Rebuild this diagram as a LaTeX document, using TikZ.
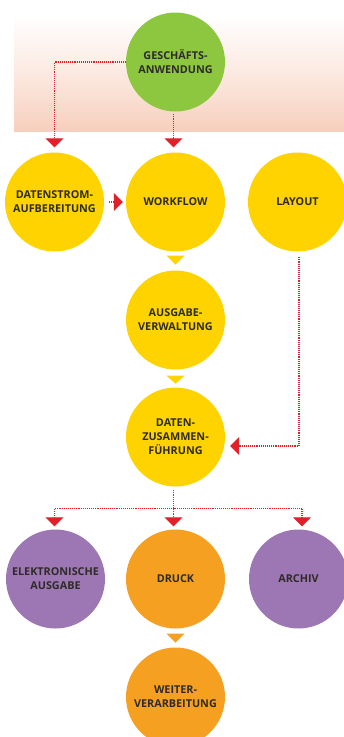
\documentclass[tikz,border=0pt]{standalone}
\usepackage{fontspec}
\setmainfont{Open Sans}
\usetikzlibrary{arrows.meta,calc}
\definecolor{cgreen}{HTML}{8DC63F}
\definecolor{cyellow}{HTML}{FED300}
\definecolor{cpurple}{HTML}{9D76B4}
\definecolor{corange}{HTML}{F6A021}
\definecolor{cred}{HTML}{E2202A}
\definecolor{ctext}{HTML}{2E2B28}
\definecolor{csalmon}{HTML}{F7CFBD}
\tikzset{
  circ/.style={circle, inner sep=0pt, minimum size=99pt, text=ctext,
    font=\fontsize{10.8}{14}\selectfont\bfseries, align=center},
  gr/.style={circ, fill=cgreen},
  ye/.style={circ, fill=cyellow},
  pu/.style={circ, fill=cpurple},
  og/.style={circ, fill=corange},
  reddot/.style={draw=cred, line width=1.3pt, dash pattern=on 1pt off 0.9pt,
    -{Triangle[width=18pt,length=9pt,fill=cred,color=cred]}},
  reddots/.style={draw=cred, line width=1.3pt, dash pattern=on 1pt off 0.9pt},
}
\begin{document}
\begin{tikzpicture}[x=1pt,y=-1pt]
\useasboundingbox (0,0) rectangle (344,737);
\shade[top color=white, bottom color=csalmon, middle color=csalmon!45] (14,15) rectangle (344,131);

\node[gr] (g) at (175.5,62) {GESCHÄFTS-\\ANWENDUNG};
\node[ye] (ds) at (54.5,202) {DATENSTROM-\\AUFBEREITUNG};
\node[ye] (wf) at (175.5,202) {WORKFLOW};
\node[ye] (ly) at (297.5,202) {LAYOUT};
\node[ye] (ag) at (175.5,320) {AUSGABE-\\VERWALTUNG};
\node[ye] (dz) at (175.5,437) {DATEN-\\ZUSAMMEN-\\FÜHRUNG};
\node[pu] (ea) at (55.5,579) {ELEKTRONISCHE\\AUSGABE};
\node[og] (dr) at (175.5,579) {DRUCK};
\node[pu] (ar) at (298.5,579) {ARCHIV};
\node[og] (wv) at (175.5,697) {WEITER-\\VERARBEITUNG};

% red connectors
\draw[reddot] (g.west) -| ($(ds.north)+(0,-5)$);
\draw[reddot] ($(g.south)+(-2,2)$) -- ($(wf.north)+(-2,-5)$);
\draw[reddot] ($(ds.east)+(5,0)$) -- ($(wf.west)+(-3,0)$);
\coordinate (lyc) at ($(ly.south)+(1.5,5)$);
\draw[reddot] (lyc) |- ($(dz.east)+(5,9)$);
\coordinate (split) at ($(dz.south)+(-2,22)$);
\draw[reddots] ($(dz.south)+(-2,3)$) -- (split);
\draw[reddot] (split) -| ($(ea.north)+(-1,-3)$);
\draw[reddot] (split) -| ($(ar.north)+(3.5,-3)$);
\draw[reddot] (split) -- ($(dr.north)+(-2,-3)$);

% coloured triangles
\fill[cyellow] ($(wf.south)+(-9,4)$) -- ++(18,0) -- ($(wf.south)+(0,13)$) -- cycle;
\fill[cyellow] ($(ag.south)+(-9,6)$) -- ++(18,0) -- ($(ag.south)+(0,14)$) -- cycle;
\fill[corange] ($(dr.south)+(-9,5)$) -- ++(18,0) -- ($(dr.south)+(0,14)$) -- cycle;
\end{tikzpicture}
\end{document}
